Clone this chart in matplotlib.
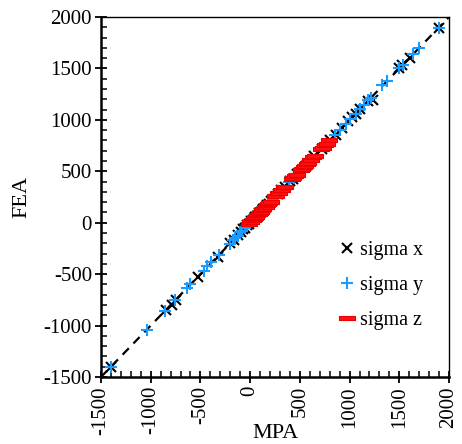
import matplotlib
matplotlib.use("Agg")
import matplotlib.pyplot as plt
from matplotlib.path import Path
from matplotlib.ticker import MultipleLocator

plt.rcParams['font.family'] = ['Liberation Serif', 'DejaVu Serif']
plt.rcParams['axes.unicode_minus'] = False

# sigma x: MPA vs FEA
sx_mpa = [-1400, -850, -790, -745, -525, -320, -205, -160, -120, -90, -70, -50, -30,
          -10, 10, 30, 50, 70, 90, 110, 130, 150, 170, 190, 210, 280, 310, 350, 400,
          430, 470, 560, 640, 720, 800, 860, 925, 980, 1025, 1060, 1100, 1190, 1235,
          1500, 1530, 1610, 1900]
sx_fea = [-1400, -850, -800, -750, -528, -330, -200, -165, -115, -95, -65, -55, -25,
          -15, 15, 25, 55, 65, 95, 105, 135, 145, 175, 185, 215, 275, 315, 345, 405,
          425, 475, 555, 645, 715, 805, 855, 920, 985, 1028, 1055, 1105, 1185, 1195,
          1500, 1535, 1600, 1890]

# sigma y: MPA vs FEA
sy_mpa = [-1400, -1035, -860, -760, -640, -600, -465, -430, -390, -310, -200, -175,
          -150, -125, -100, -80, -55, -30, 40, 230, 390, 440, 490, 850, 900, 960, 1000,
          1060, 1100, 1150, 1190, 1220, 1330, 1380, 1500, 1540, 1640, 1700, 1900]
sy_fea = [-1400, -1040, -860, -755, -635, -595, -470, -425, -385, -315, -205, -170,
          -145, -130, -95, -85, -50, -35, 35, 225, 395, 435, 495, 855, 905, 955, 1005,
          1055, 1105, 1145, 1195, 1215, 1335, 1375, 1505, 1535, 1645, 1700, 1895]

# sigma z: MPA vs FEA
sz_mpa = [-15, 0, 12, 25, 35, 48, 60, 72, 85, 95, 108, 120, 132, 145, 155, 168, 180,
          192, 205, 250, 265, 280, 295, 310, 325, 340, 355, 420, 435, 450, 470, 510,
          525, 540, 555, 570, 585, 600, 615, 630, 650, 710, 730, 755, 775, 795]
sz_fea = [-10, 5, 10, 28, 32, 50, 58, 75, 82, 98, 105, 122, 130, 148, 152, 170, 178,
          195, 200, 255, 262, 285, 290, 315, 322, 345, 350, 425, 430, 455, 465, 515,
          520, 545, 550, 575, 580, 605, 610, 635, 645, 715, 725, 760, 770, 800]

ticks = [-1500, -1000, -500, 0, 500, 1000, 1500, 2000]
lim = (-1500, 2000)

fig = plt.figure(figsize=(4.62, 4.44), dpi=100)
ax = fig.add_axes([0.2186, 0.1509, 0.7533, 0.8108])

# 1:1 reference line
ax.plot(lim, lim, color='black', linestyle=(0, (4, 3)), linewidth=1.6, zorder=1)

bar_marker = Path([(-1, -0.32), (1, -0.32), (1, 0.32), (-1, 0.32), (-1, -0.32)],
                  [Path.MOVETO, Path.LINETO, Path.LINETO, Path.LINETO, Path.CLOSEPOLY])

ax.plot(sx_mpa, sx_fea, linestyle='none', marker='x', markersize=7, markeredgewidth=1.5,
        color='black', label='sigma x', zorder=2)
ax.plot(sy_mpa, sy_fea, linestyle='none', marker='+', markersize=8, markeredgewidth=1.5,
        color='#1a9bff', label='sigma y', zorder=3)
ax.plot(sz_mpa, sz_fea, linestyle='none', marker=bar_marker, markersize=11,
        markerfacecolor='#ff1010', markeredgecolor='#ee0000', markeredgewidth=0.8,
        label='sigma z', zorder=4)

ax.set_xlim(*lim)
ax.set_ylim(*lim)
ax.set_xticks(ticks)
ax.set_yticks(ticks)
ax.set_xticklabels([str(t) for t in ticks], rotation=90)
ax.set_yticklabels([str(t) for t in ticks])
ax.xaxis.set_minor_locator(MultipleLocator(100))
ax.yaxis.set_minor_locator(MultipleLocator(100))
ax.tick_params(which='major', direction='inout', length=9, width=1.3, labelsize=15,
               pad=2, colors='black')
ax.tick_params(which='minor', direction='in', length=4.5, width=1.1)
ax.tick_params(top=False, right=False, which='both')

ax.spines['left'].set_linewidth(1.8)
ax.spines['bottom'].set_linewidth(1.8)
ax.spines['top'].set_linewidth(1.0)
ax.spines['right'].set_linewidth(1.0)

ax.set_xlabel('MPA', fontsize=16)
ax.set_ylabel('FEA', fontsize=16)
ax.xaxis.set_label_coords(0.5, -0.13)
ax.yaxis.set_label_coords(-0.2, 0.5)

ax.legend(loc='center left', bbox_to_anchor=(0.685, 0.255), frameon=False,
          fontsize=14.5, handlelength=0.8, handletextpad=0.2, labelspacing=0.78,
          borderpad=0, borderaxespad=0)

fig.savefig('out.png', dpi=100)
